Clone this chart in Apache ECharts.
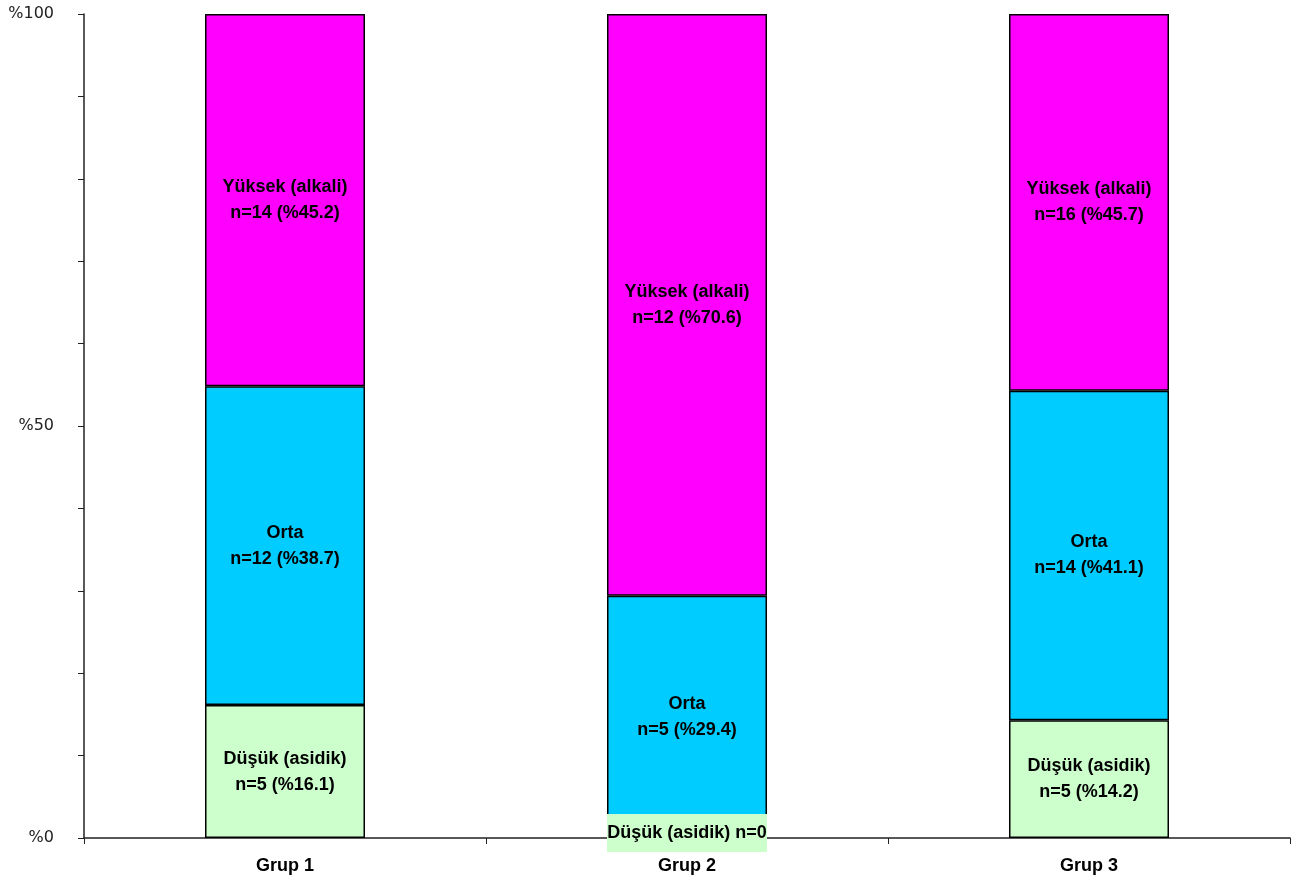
<!DOCTYPE html>
<html>
<head>
<meta charset="utf-8">
<script src="https://cdn.jsdelivr.net/npm/echarts@6/dist/echarts.min.js"></script>
<style>
  html, body { margin: 0; padding: 0; background: #fff; }
  #chart { width: 1301px; height: 886px; }
</style>
</head>
<body>
<div id="chart"></div>
<script>
const categories = ['Grup 1', 'Grup 2', 'Grup 3']
const dusukN = [5, 0, 5]
const dusukPct = [16.1, 0, 14.2]
const ortaN = [12, 5, 14]
const ortaPct = [38.7, 29.4, 41.1]
const yuksekN = [14, 12, 16]
const yuksekPct = [45.2, 70.6, 45.7]
const yTickLabels = { 0: '%0', 50: '%50', 100: '%100' }

// 100% stacked: each segment's height is its share of the group's total count
const totals = categories.map((c, i) => dusukN[i] + ortaN[i] + yuksekN[i])
const share = (counts) => counts.map((n, i) => n / totals[i] * 100)

const font = '"Liberation Sans", Arial, sans-serif'
const chart = echarts.init(document.getElementById('chart'))

const labelBase = {
  show: true,
  position: 'inside',
  color: '#000',
  fontFamily: font,
  fontWeight: 'bold',
  fontSize: 18,
  lineHeight: 26
}

const makeSeries = (name, title, counts, pcts, color) => ({
  name,
  type: 'bar',
  stack: 'total',
  barWidth: 160,
  itemStyle: { color, borderColor: '#000', borderWidth: 1.5 },
  label: {
    ...labelBase,
    formatter: (p) => title + '\nn=' + counts[p.dataIndex] + ' (%' + pcts[p.dataIndex] + ')'
  },
  data: share(counts)
})

const dusuk = makeSeries('Düşük', 'Düşük (asidik)', dusukN, dusukPct, '#ccffcc')
// n=0 bar in Grup 2 gets its own one-line boxed label
dusuk.data = dusuk.data.map((v, i) => dusukN[i] === 0 ? {
  value: v,
  label: {
    formatter: 'Düşük (asidik) n=' + dusukN[i],
    backgroundColor: '#ccffcc',
    width: 160,
    height: 38,
    lineHeight: 38,
    align: 'center',
    offset: [0, -5]
  }
} : v)

let option = {
  animation: false,
  grid: { left: 84, right: 11, top: 14, bottom: 48 },
  xAxis: {
    type: 'category',
    data: categories,
    axisLine: { lineStyle: { color: '#222', width: 1.5 } },
    axisTick: { show: true, length: 6, lineStyle: { color: '#222' } },
    axisLabel: {
      color: '#000',
      fontFamily: font,
      fontWeight: 'bold',
      fontSize: 18,
      margin: 19
    }
  },
  yAxis: {
    type: 'value',
    min: 0,
    max: 100,
    interval: 10,
    splitLine: { show: false },
    axisLine: { show: true, lineStyle: { color: '#222', width: 1.5 } },
    axisTick: { show: true, length: 6, lineStyle: { color: '#222' } },
    axisLabel: {
      color: '#222',
      fontFamily: '"DejaVu Sans", sans-serif',
      fontSize: 16,
      margin: 30,
      formatter: (v) => yTickLabels[v] || ''
    }
  },
  series: [
    dusuk,
    makeSeries('Orta', 'Orta', ortaN, ortaPct, '#00ccff'),
    makeSeries('Yüksek', 'Yüksek (alkali)', yuksekN, yuksekPct, '#ff00ff')
  ]
}
chart.setOption(option)
</script>
</body>
</html>
